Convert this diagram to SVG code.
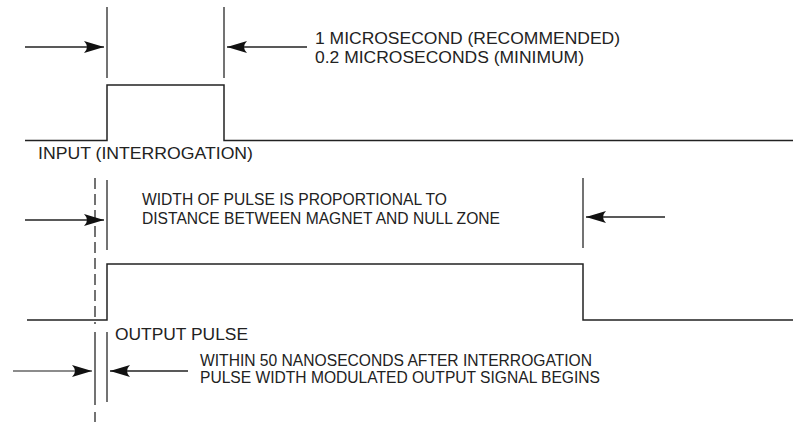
<svg xmlns="http://www.w3.org/2000/svg" width="793" height="422" viewBox="0 0 793 422">
  <style>
    .wave { fill: none; stroke: #222; stroke-width: 1.5; }
    .mark { stroke: #444; stroke-width: 1.5; fill: none; }
    .dash { stroke: #444; stroke-width: 1.5; fill: none; stroke-dasharray: 11 5; }
    .arr { stroke: #222; stroke-width: 1.3; fill: none; marker-end: url(#ah); }
    .lbl { font-family: "Liberation Sans", Arial, sans-serif; font-size: 16px; fill: #222; }
  </style>
  <defs>
    <marker id="ah" markerUnits="userSpaceOnUse" markerWidth="22" markerHeight="14" refX="20" refY="6" orient="auto">
      <path d="M0,0 Q6,6 0,12 L20,6 Z" fill="#111"/>
    </marker>
  </defs>
  <rect width="793" height="422" fill="#fff"/>

  <g id="input-waveform">
    <path class="wave" d="M25,140.5 H107 V85 H224 V140.5 H793"/>
  </g>
  <g id="output-waveform">
    <path class="wave" d="M27,320 H107 V264 H583 V320 H793"/>
  </g>

  <g id="markers">
    <line class="mark" x1="107" y1="7" x2="107" y2="78"/>
    <line class="mark" x1="224" y1="7" x2="224" y2="78"/>
    <line class="mark" x1="107" y1="180" x2="107" y2="250"/>
    <line class="mark" x1="583" y1="178" x2="583" y2="248"/>
    <line class="mark" x1="107" y1="332" x2="107" y2="402"/>
    <line class="dash" x1="95" y1="178" x2="95" y2="324"/>
    <line class="mark" x1="95" y1="332" x2="95" y2="405"/>
    <line class="mark" x1="95" y1="412" x2="95" y2="422"/>
  </g>

  <g id="connectors">
    <line class="arr" x1="25" y1="47" x2="104" y2="47"/>
    <line class="arr" x1="307" y1="47" x2="227" y2="47"/>
    <line class="arr" x1="25" y1="220" x2="104" y2="220"/>
    <line class="arr" x1="665" y1="217" x2="586" y2="217"/>
    <line class="arr" x1="13" y1="371" x2="92" y2="371" style="stroke:#666"/>
    <line class="arr" x1="188" y1="371" x2="110" y2="371"/>
  </g>

  <g id="label-top">
    <text class="lbl" x="315" y="44" textLength="305" lengthAdjust="spacingAndGlyphs">1 MICROSECOND (RECOMMENDED)</text>
    <text class="lbl" x="315" y="63" textLength="269" lengthAdjust="spacingAndGlyphs">0.2 MICROSECONDS (MINIMUM)</text>
  </g>
  <g id="label-input">
    <text class="lbl" x="38" y="158.5" textLength="215" lengthAdjust="spacingAndGlyphs">INPUT (INTERROGATION)</text>
  </g>
  <g id="label-width">
    <text class="lbl" x="142" y="205" textLength="305" lengthAdjust="spacingAndGlyphs">WIDTH OF PULSE IS PROPORTIONAL TO</text>
    <text class="lbl" x="142" y="224" textLength="358" lengthAdjust="spacingAndGlyphs">DISTANCE BETWEEN MAGNET AND NULL ZONE</text>
  </g>
  <g id="label-output">
    <text class="lbl" x="115" y="340" textLength="133" lengthAdjust="spacingAndGlyphs">OUTPUT PULSE</text>
  </g>
  <g id="label-delay">
    <text class="lbl" x="200" y="366" textLength="392" lengthAdjust="spacingAndGlyphs">WITHIN 50 NANOSECONDS AFTER INTERROGATION</text>
    <text class="lbl" x="200" y="383" textLength="400" lengthAdjust="spacingAndGlyphs">PULSE WIDTH MODULATED OUTPUT SIGNAL BEGINS</text>
  </g>
</svg>
